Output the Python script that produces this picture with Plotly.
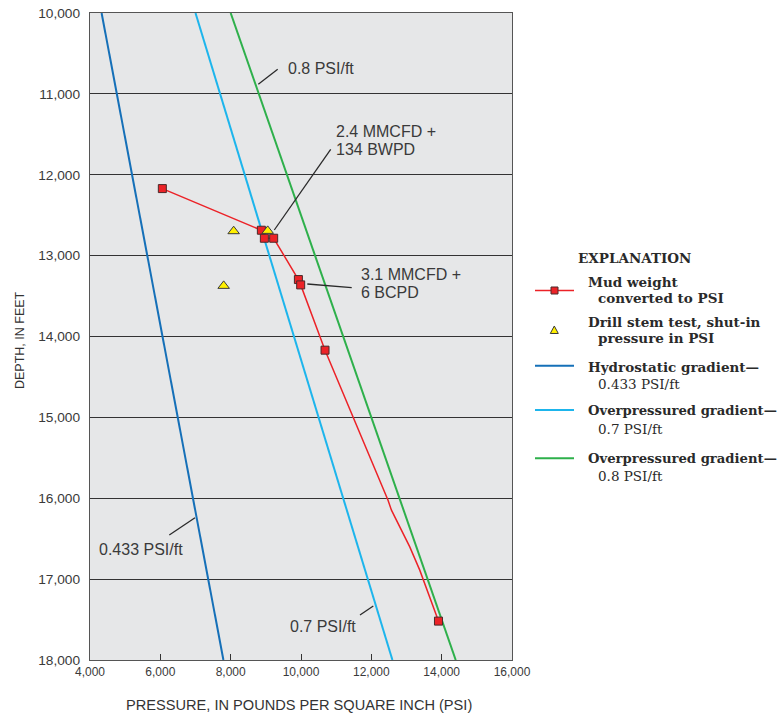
import plotly.graph_objects as go

# ---------------- data ----------------
# Mud weight converted to PSI (measured points)
mud_depth = [12171, 12686, 12785, 12785, 13296, 13362, 14169, 17519]
mud_pressure = [6057, 8873, 8958, 9223, 9926, 9991, 10683, 13909]
# intermediate vertices of the hand-drawn mud-weight curve (no markers)
mud_curve_depth = [14747, 15261, 16024, 16147, 16601, 16889]
mud_curve_pressure = [11243, 11718, 12475, 12572, 13093, 13377]

# Drill stem test, shut-in pressure
dst_depth = [12698, 12694, 13374]
dst_pressure = [8085, 9053, 7801]

# Gradient lines (end points)
gradient_depth = [10000, 18000]
hydro_pressure = [4330, 7794]      # 0.433 PSI/ft
over07_pressure = [7000, 12600]    # 0.7 PSI/ft
over08_pressure = [8000, 14400]    # 0.8 PSI/ft

x_ticks = [4000, 6000, 8000, 10000, 12000, 14000, 16000]
y_ticks = [10000, 11000, 12000, 13000, 14000, 15000, 16000, 17000, 18000]

# ---------------- styling ----------------
W, H = 783, 716
L, R, T, B = 90, 512, 13, 660
RED = "#EC2227"
BLUE = "#1570B8"
CYAN = "#1DB5EC"
GREEN = "#2EB04B"
DARK = "#2a2a2a"
SANS = "Liberation Sans, Arial, sans-serif"
SERIF = "DejaVu Serif, serif"


def px(x):
    return (x - L) / (R - L)


def py(y):
    return (B - y) / (B - T)


# merged path for the red curve
path = sorted(list(zip(mud_depth, mud_pressure)) + list(zip(mud_curve_depth, mud_curve_pressure)))
line_depth = [d for d, p in path]
line_pressure = [p for d, p in path]

fig = go.Figure()
fig.add_trace(go.Scatter(x=hydro_pressure, y=gradient_depth, mode="lines",
                         line=dict(color=BLUE, width=2), showlegend=False, hoverinfo="skip"))
fig.add_trace(go.Scatter(x=over07_pressure, y=gradient_depth, mode="lines",
                         line=dict(color=CYAN, width=2), showlegend=False, hoverinfo="skip"))
fig.add_trace(go.Scatter(x=over08_pressure, y=gradient_depth, mode="lines",
                         line=dict(color=GREEN, width=2), showlegend=False, hoverinfo="skip"))
fig.add_trace(go.Scatter(x=line_pressure, y=line_depth, mode="lines",
                         line=dict(color=RED, width=1.5), showlegend=False, hoverinfo="skip"))
fig.add_trace(go.Scatter(x=mud_pressure, y=mud_depth, mode="markers",
                         marker=dict(symbol="square", size=8, color=RED,
                                     line=dict(color="#4a2a2a", width=1)),
                         showlegend=False))
fig.add_trace(go.Scatter(x=dst_pressure, y=dst_depth, mode="markers",
                         marker=dict(symbol="triangle-up", size=10, color="#FFEF00",
                                     line=dict(color="#3a3a3a", width=1)),
                         showlegend=False))

annotations = []
shapes = []


def text(x, y, s, font, size, color=DARK, anchor="left", angle=0):
    annotations.append(dict(x=px(x), y=py(y), xref="paper", yref="paper", text=s,
                            showarrow=False, xanchor=anchor, yanchor="middle",
                            textangle=angle, borderpad=0,
                            font=dict(family=font, size=size, color=color)))


def seg(x0, y0, x1, y1, color=DARK, width=1.3):
    shapes.append(dict(type="line", xref="paper", yref="paper",
                       x0=px(x0), y0=py(y0), x1=px(x1), y1=py(y1),
                       line=dict(color=color, width=width)))


# in-plot labels and leader lines
text(286.7, 68.3, "0.8 PSI/ft", SANS, 16, color="#3a3a3a")
seg(258.3, 84.3, 277.7, 69.3)
text(335, 131, "2.4 MMCFD +", SANS, 16, color="#3a3a3a")
text(335, 150, "134 BWPD", SANS, 16, color="#3a3a3a")
seg(274.3, 230, 330.7, 149.3)
text(360, 274.3, "3.1 MMCFD +", SANS, 16, color="#3a3a3a")
text(360, 292.7, "6 BCPD", SANS, 16, color="#3a3a3a")
seg(307.3, 284, 351.7, 287.7)
text(97.7, 549, "0.433 PSI/ft", SANS, 16, color="#3a3a3a")
seg(169.3, 535, 195, 517.7)
text(289.3, 626.7, "0.7 PSI/ft", SANS, 16, color="#3a3a3a")
seg(360, 615, 373.3, 606)

# axis titles
text(298.5, 705, "PRESSURE, IN POUNDS PER SQUARE INCH (PSI)", SANS, 14.6,
     color="#333333", anchor="center")
annotations.append(dict(x=px(20), y=py(340), xref="paper", yref="paper",
                        text="DEPTH, IN FEET", showarrow=False, textangle=-90,
                        xanchor="center", yanchor="middle", borderpad=0,
                        font=dict(family=SANS, size=12.5, color="#333333")))

# explanation (legend)
text(577, 258.3, "<b>EXPLANATION</b>", SERIF, 13.5)
text(586.7, 281.7, "<b>Mud weight</b>", SERIF, 13.5)
text(597, 298.3, "<b>converted to PSI</b>", SERIF, 13.5)
text(586.7, 321.7, "<b>Drill stem test, shut-in</b>", SERIF, 13.5)
text(597, 338.3, "<b>pressure in PSI</b>", SERIF, 13.5)
text(586.7, 366.7, "<b>Hydrostatic gradient\u2014</b>", SERIF, 13.5)
text(596.7, 384.3, "0.433 PSI/ft", SERIF, 13.5)
text(586.7, 410, "<b>Overpressured gradient\u2014</b>", SERIF, 13.2)
text(596.7, 429, "0.7 PSI/ft", SERIF, 13.5)
text(586.7, 458.3, "<b>Overpressured gradient\u2014</b>", SERIF, 13.2)
text(596.7, 476, "0.8 PSI/ft", SERIF, 13.5)

seg(535, 290.5, 574, 290.5, color=RED, width=1.5)
shapes.append(dict(type="rect", xref="paper", yref="paper",
                   x0=px(551), x1=px(558), y0=py(294), y1=py(287),
                   fillcolor=RED, line=dict(color="#4a2a2a", width=1)))
shapes.append(dict(type="path", xref="paper", yref="paper",
                   path="M {:.5f},{:.5f} L {:.5f},{:.5f} L {:.5f},{:.5f} Z".format(
                       px(550.3), py(333.5), px(558.3), py(333.5), px(554.3), py(326)),
                   fillcolor="#FFEF00", line=dict(color="#3a3a3a", width=1)))
seg(535, 365.7, 574, 365.7, color=BLUE, width=2)
seg(535, 410, 574, 410, color=CYAN, width=2)
seg(535, 458.3, 574, 458.3, color=GREEN, width=2)

fig.update_layout(
    width=W, height=H,
    margin=dict(l=L, r=W - R, t=T, b=H - B, autoexpand=False),
    paper_bgcolor="white",
    plot_bgcolor="#E6E7E8",
    showlegend=False,
    annotations=annotations,
    shapes=shapes,
)
fig.update_xaxes(range=[4000, 16000], tickvals=x_ticks, tickformat=",d",
                 ticks="inside", ticklen=6, tickcolor="#333333", tickwidth=1.2,
                 showgrid=False, zeroline=False, automargin=False,
                 showline=True, mirror=True, linecolor="#555555", linewidth=1.3,
                 tickfont=dict(family=SANS, size=12, color="#3a3a3a"))
fig.update_yaxes(range=[18000, 10000], tickvals=y_ticks, tickformat=",d",
                 ticks="", showgrid=True, gridcolor="#333333", gridwidth=1.2,
                 zeroline=False, automargin=False, ticklabelstandoff=6,
                 showline=True, mirror=True, linecolor="#555555", linewidth=1.3,
                 tickfont=dict(family=SANS, size=13.7, color="#3a3a3a"))

fig.write_html("out.html",
               config={"displayModeBar": False},
               post_script="document.body.style.margin='0px';document.body.style.overflow='hidden';")
